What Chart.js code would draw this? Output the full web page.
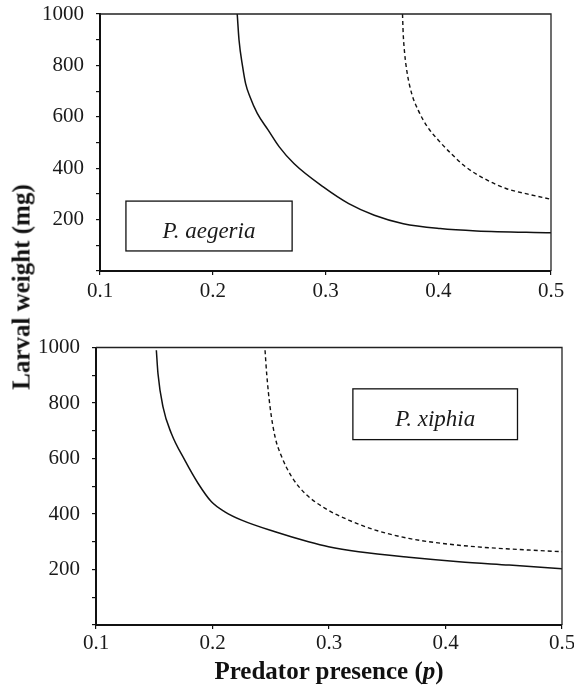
<!DOCTYPE html>
<html><head><meta charset="utf-8">
<script src="https://cdn.jsdelivr.net/npm/chart.js@4/dist/chart.umd.min.js"></script>
<style>
html,body{margin:0;padding:0;background:#fff;width:574px;height:689px;overflow:hidden;position:relative}
#c1{position:absolute;left:0;top:0}
#c2{position:absolute;left:0;top:330px}
.yt{position:absolute;left:21px;top:287px;transform:translate(-50%,-50%) rotate(-90deg);font:bold 25px "Liberation Serif";white-space:nowrap;color:#111;line-height:1}
.xt{position:absolute;left:329px;top:670px;transform:translate(-50%,-50%);font:bold 25px "Liberation Serif";white-space:nowrap;color:#111;line-height:1}
</style></head><body>
<canvas id="c1" width="574" height="320"></canvas>
<canvas id="c2" width="574" height="359"></canvas>
<div class="yt">Larval weight (mg)</div>
<div class="xt">Predator presence (<i>p</i>)</div>
<script>
// Axis ticks
const xTicks = [0.1, 0.2, 0.3, 0.4, 0.5];
const yLabelTicks = [200, 400, 600, 800, 1000];

// P. aegeria (top panel)
const aegeriaSolidP = [0.2217,0.2233,0.2265,0.2291,0.233,0.2395,0.2492,0.259,0.272,0.298,0.3206,0.3433,0.369,0.4017,0.434,0.5];
const aegeriaSolidW = [1000,899,795,730,678,613,548,483,418,327,262,217,184,165,156,149];
const aegeriaDashP = [0.3683,0.3689,0.3702,0.3725,0.3764,0.3822,0.3904,0.4001,0.4114,0.4244,0.4406,0.4601,0.4796,0.5];
const aegeriaDashW = [1000,925,847,769,691,626,561,509,457,405,360,321,299,279];

// P. xiphia (bottom panel)
const xiphiaSolidP = [0.1518,0.1532,0.1575,0.1647,0.1762,0.1877,0.1991,0.2106,0.225,0.2537,0.2824,0.2996,0.3255,0.3685,0.4116,0.4547,0.5];
const xiphiaSolidW = [990,906,786,690,594,510,444,408,378,336,300,282,264,244,228,216,203];
const xiphiaDashP = [0.2451,0.2465,0.2494,0.2537,0.2594,0.268,0.2795,0.2968,0.3169,0.3398,0.3685,0.3972,0.426,0.4547,0.5];
const xiphiaDashW = [990,906,786,678,606,534,474,420,378,342,312,294,282,274,264];

const species = ['P. aegeria', 'P. xiphia'];

const pts = (xs, ys) => xs.map((x, i) => ({x, y: ys[i]}));
const FONT = '"Liberation Serif", "Times New Roman", serif';
const INK = '#1a1a1a';

const framePlugin = {
  id: 'frame',
  afterDraw(chart) {
    const {ctx, chartArea: a} = chart;
    ctx.save();
    ctx.strokeStyle = '#222';
    ctx.lineWidth = 1.3;
    ctx.beginPath();
    ctx.moveTo(a.left, a.top);
    ctx.lineTo(a.right, a.top);
    ctx.lineTo(a.right, a.bottom);
    ctx.stroke();
    ctx.restore();
  }
};

const boxPlugin = {
  id: 'labelBox',
  afterDatasetsDraw(chart, args, o) {
    const {ctx, scales: {x, y}} = chart;
    const l = x.getPixelForValue(o.x0), r = x.getPixelForValue(o.x1);
    const t = y.getPixelForValue(o.y1), b = y.getPixelForValue(o.y0);
    ctx.save();
    ctx.fillStyle = '#fff';
    ctx.fillRect(l, t, r - l, b - t);
    ctx.strokeStyle = '#111';
    ctx.lineWidth = 1.3;
    ctx.strokeRect(l, t, r - l, b - t);
    ctx.font = 'italic 23px ' + FONT;
    ctx.fillStyle = INK;
    ctx.textAlign = 'center';
    ctx.textBaseline = 'alphabetic';
    ctx.fillText(o.text, (l + r) / 2, (t + b) / 2 + 12);
    ctx.restore();
  }
};

function makeChart(id, solidP, solidW, dashP, dashW, box, L) {
  return new Chart(document.getElementById(id), {
    type: 'line',
    data: {
      datasets: [
        {data: pts(solidP, solidW), borderColor: '#111', borderWidth: 1.5, pointRadius: 0, cubicInterpolationMode: 'monotone', fill: false},
        {data: pts(dashP, dashW), borderColor: '#111', borderWidth: 1.4, borderDash: [4, 3], pointRadius: 0, cubicInterpolationMode: 'monotone', fill: false}
      ]
    },
    options: {
      responsive: false,
      animation: false,
      events: [],
      layout: {padding: {left: 0, right: L.right, top: L.top, bottom: 0}},
      plugins: {legend: {display: false}, tooltip: {enabled: false}, labelBox: box},
      scales: {
        x: {
          type: 'linear', min: 0.1, max: 0.5,
          afterBuildTicks: s => { s.ticks = xTicks.map(v => ({value: v})); },
          afterFit: s => { s.height = L.xh; s.paddingLeft = 0; s.paddingRight = 0; },
          ticks: {font: {family: FONT, size: 21}, color: INK, padding: L.xpad, maxRotation: 0, autoSkip: false,
                  callback: v => String(v)},
          grid: {drawOnChartArea: false, drawTicks: true, tickLength: 4, color: '#111', lineWidth: 1.2},
          border: {display: true, color: '#111', width: 2}
        },
        y: {
          type: 'linear', min: 0, max: 1000,
          ticks: {stepSize: 100, font: {family: FONT, size: 21}, color: INK, padding: 12, autoSkip: false,
                  callback: v => yLabelTicks.includes(v) ? String(v) : ''},
          afterFit: s => { s.width = L.yw; s.paddingTop = 0; s.paddingBottom = 0; },
          grid: {drawOnChartArea: false, drawTicks: true, tickLength: 4, color: '#111', lineWidth: 1.2},
          border: {display: true, color: '#111', width: 2}
        }
      }
    },
    plugins: [framePlugin, boxPlugin]
  });
}

makeChart('c1', aegeriaSolidP, aegeriaSolidW, aegeriaDashP, aegeriaDashW,
  {x0: 0.123, x1: 0.2704, y0: 78, y1: 272, text: species[0]},
  {right: 23, top: 14, xh: 49, yw: 100, xpad: 4});
makeChart('c2', xiphiaSolidP, xiphiaSolidW, xiphiaDashP, xiphiaDashW,
  {x0: 0.3205, x1: 0.4618, y0: 668, y1: 851, text: species[1]},
  {right: 12, top: 17.5, xh: 64, yw: 96, xpad: 2});
</script>
</body></html>
